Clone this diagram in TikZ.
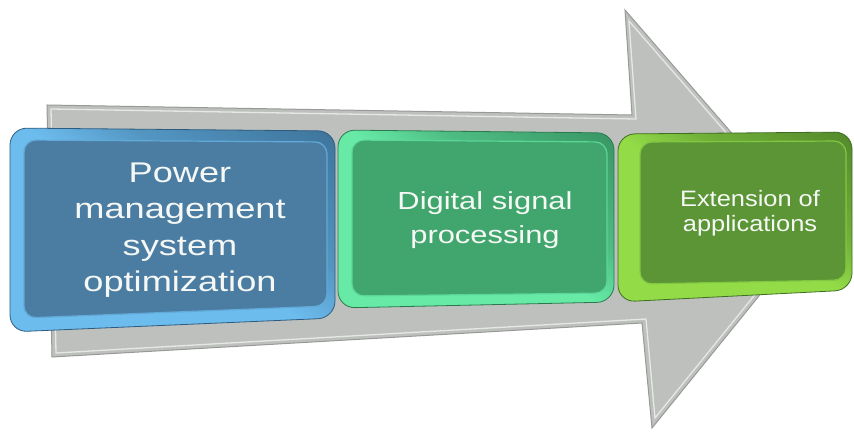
\documentclass[tikz,border=0pt]{standalone}
\usepackage{fontspec}
\setmainfont{Liberation Sans}

\definecolor{arrowfill}{HTML}{BEC0BD}
\definecolor{arrowedge}{HTML}{979A96}
\definecolor{arrowlight}{HTML}{E6E8E5}
\definecolor{blueface}{HTML}{4B7DA3}
\definecolor{bluedark}{HTML}{2E5C80}
\definecolor{bluelight}{HTML}{6CBCEE}
\definecolor{greenface}{HTML}{40A66E}
\definecolor{greendark}{HTML}{2A7A4E}
\definecolor{greenlight}{HTML}{66EAA6}
\definecolor{oliveface}{HTML}{5B9535}
\definecolor{olivedark}{HTML}{3E6E22}
\definecolor{olivelight}{HTML}{93DC48}
\definecolor{labeltext}{HTML}{F5F8F4}

% bevel rims: light towards the lower left, dark towards the upper right
\pgfdeclareverticalshading{bluerim}{100bp}{color(0bp)=(bluelight); color(50bp)=(bluelight); color(62bp)=(bluelight!60!bluedark); color(100bp)=(bluedark)}
\pgfdeclareverticalshading{greenrim}{100bp}{color(0bp)=(greenlight); color(50bp)=(greenlight); color(62bp)=(greenlight!60!greendark); color(100bp)=(greendark)}
\pgfdeclareverticalshading{oliverim}{100bp}{color(0bp)=(olivelight); color(50bp)=(olivelight); color(62bp)=(olivelight!60!olivedark); color(100bp)=(olivedark)}
% faces: flat, with a shadow band along the lower edge
\pgfdeclareverticalshading{blueplate}{100bp}{color(0bp)=(bluedark!80!black); color(7bp)=(blueface); color(100bp)=(blueface)}
\pgfdeclareverticalshading{greenplate}{100bp}{color(0bp)=(greendark!80!black); color(7bp)=(greenface); color(100bp)=(greenface)}
\pgfdeclareverticalshading{oliveplate}{100bp}{color(0bp)=(olivedark!80!black); color(7bp)=(oliveface); color(100bp)=(oliveface)}

\tikzset{
  rim/.style 2 args={rounded corners=17pt, shading=#1, shading angle=-35, draw=#2, line width=0.8pt},
  face/.style 2 args={rounded corners=12pt, shading=#1, draw=#2, line width=1.2pt},
  lbl/.style={text=labeltext, align=center, inner sep=0pt, anchor=base},
}

\begin{document}
\begin{tikzpicture}[x=1pt, y=-1pt]
\useasboundingbox (0,0) rectangle (854,433);

% big process arrow behind the steps
\path[fill=arrowfill, draw=arrowedge, line width=1pt, line join=miter]
  (47,105) -- (632,115) -- (625,10) -- (814,228) -- (652,428) -- (642,323) -- (52,357) -- cycle;
\draw[arrowlight, line width=1.3pt, line join=miter]
  (51,109) -- (636,119) -- (629,21) -- (809,228) -- (655,418) -- (646,319) -- (56,353) -- cycle;

% step 1
\shade[rim={bluerim}{bluedark}] (10,128) -- (335,131) -- (335,318) -- (10,332) -- cycle;
\shade[face={blueplate}{bluelight!70!blueface}] (24,140) -- (327,142) -- (327,306) -- (24,318) -- cycle;
\node[lbl, xscale=1.27, font=\fontsize{28.5}{36.5}\selectfont] (s1) at (180,291.5)
  {Power\\management\\system\\optimization};

% step 2
\shade[rim={greenrim}{greendark}] (338,130) -- (614,133) -- (614,302) -- (338,308) -- cycle;
\shade[face={greenplate}{greenlight!70!greenface}] (352,140) -- (607,142) -- (607,293) -- (352,296) -- cycle;
\node[lbl, xscale=1.25, font=\fontsize{24.7}{33.4}\selectfont] (s2) at (485,243)
  {Digital signal\\processing};

% step 3
\shade[rim={oliverim}{olivedark}] (618,134) -- (852,132) -- (852,290) -- (618,302) -- cycle;
\shade[face={oliveplate}{olivelight!70!oliveface}] (640,142) -- (846,141) -- (846,280) -- (640,284) -- cycle;
\node[lbl, xscale=1.14, font=\fontsize{22.3}{25}\selectfont] (s3) at (750,231)
  {Extension of\\applications};
\end{tikzpicture}
\end{document}
